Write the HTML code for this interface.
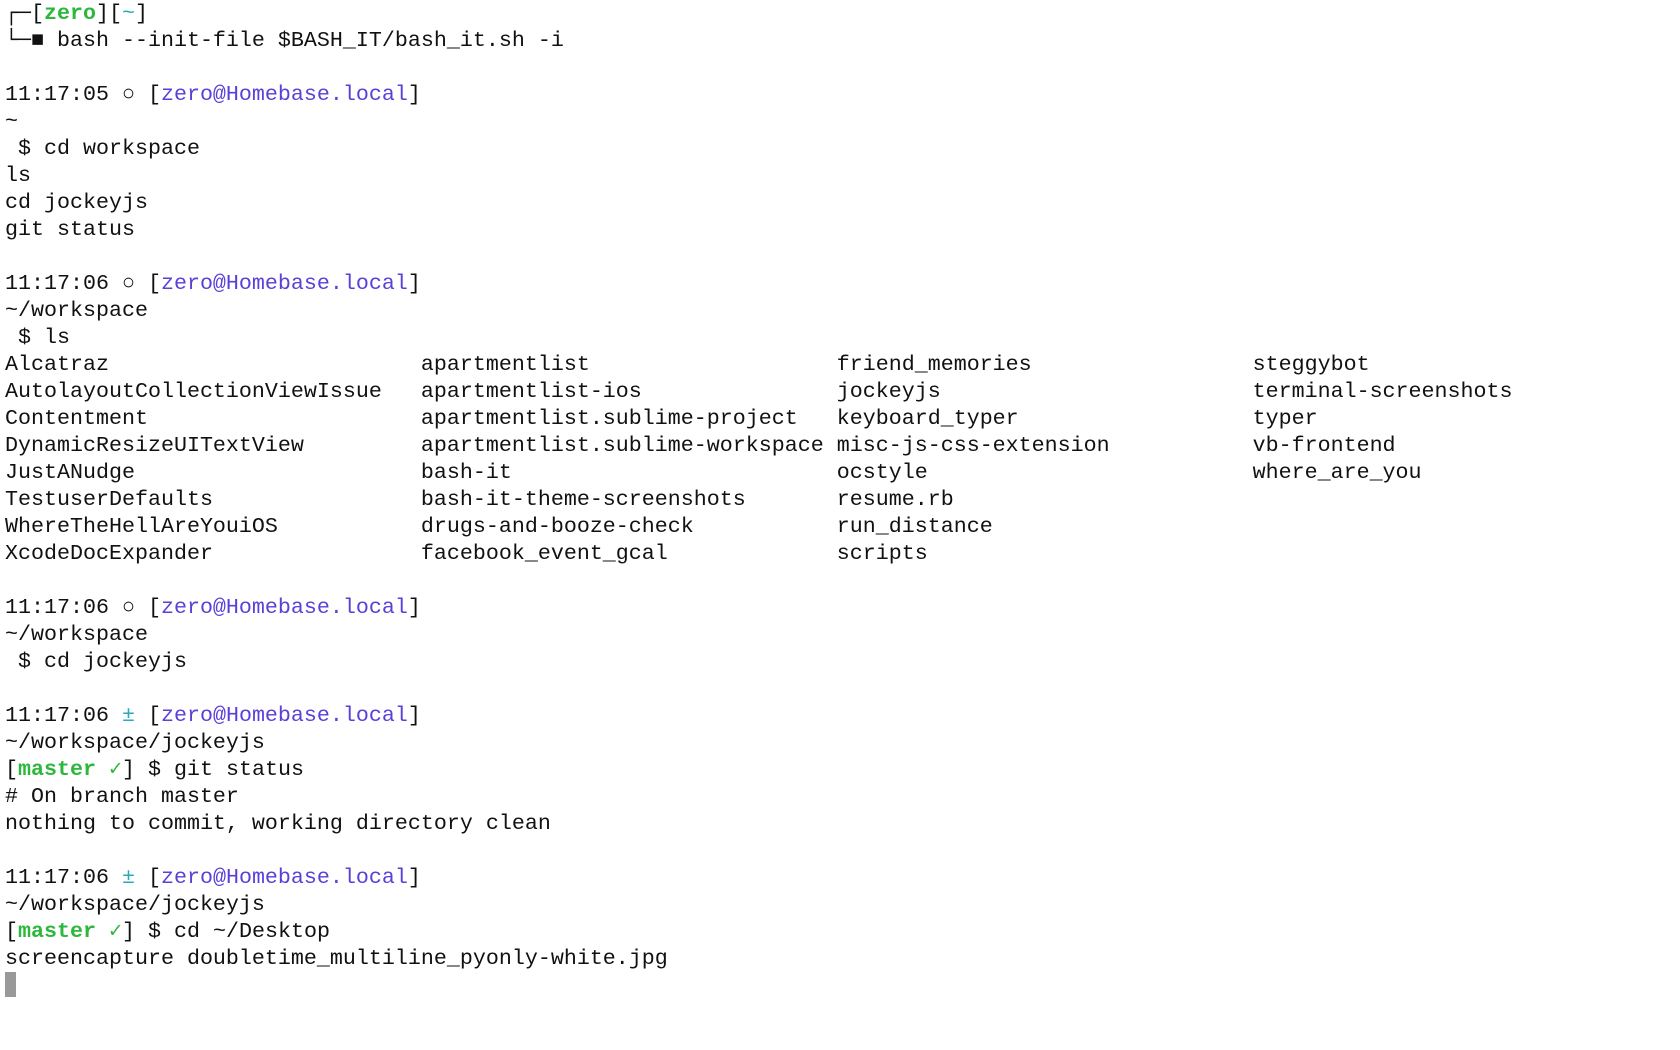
<!DOCTYPE html>
<html><head><meta charset="utf-8"><style>
html,body{margin:0;padding:0;background:#fff;width:1680px;height:1050px;overflow:hidden}
pre{margin:0;position:absolute;left:5px;top:0;font-family:"Liberation Mono","DejaVu Sans Mono",monospace;font-size:21.67px;line-height:27px;color:#111;white-space:pre}
.g{color:#2db83d;font-weight:bold}.gc{color:#2db83d}
.p{color:#5b3fd8}.c{color:#2aa9b8}
.cur{display:inline-block;width:11px;height:25px;background:#999;vertical-align:-6px}
</style></head><body>
<pre>┌─[<span class="g">zero</span>][<span class="c">~</span>]
└─■ bash --init-file $BASH_IT/bash_it.sh -i

11:17:05 ○ [<span class="p">zero@Homebase.local</span>]
~
 $ cd workspace
ls
cd jockeyjs
git status

11:17:06 ○ [<span class="p">zero@Homebase.local</span>]
~/workspace
 $ ls
Alcatraz                        apartmentlist                   friend_memories                 steggybot
AutolayoutCollectionViewIssue   apartmentlist-ios               jockeyjs                        terminal-screenshots
Contentment                     apartmentlist.sublime-project   keyboard_typer                  typer
DynamicResizeUITextView         apartmentlist.sublime-workspace misc-js-css-extension           vb-frontend
JustANudge                      bash-it                         ocstyle                         where_are_you
TestuserDefaults                bash-it-theme-screenshots       resume.rb
WhereTheHellAreYouiOS           drugs-and-booze-check           run_distance
XcodeDocExpander                facebook_event_gcal             scripts

11:17:06 ○ [<span class="p">zero@Homebase.local</span>]
~/workspace
 $ cd jockeyjs

11:17:06 <span class="c">±</span> [<span class="p">zero@Homebase.local</span>]
~/workspace/jockeyjs
[<span class="g">master</span> <span class="gc">✓</span>] $ git status
# On branch master
nothing to commit, working directory clean

11:17:06 <span class="c">±</span> [<span class="p">zero@Homebase.local</span>]
~/workspace/jockeyjs
[<span class="g">master</span> <span class="gc">✓</span>] $ cd ~/Desktop
screencapture doubletime_multiline_pyonly-white.jpg
<span class="cur"></span></pre>
</body></html>
